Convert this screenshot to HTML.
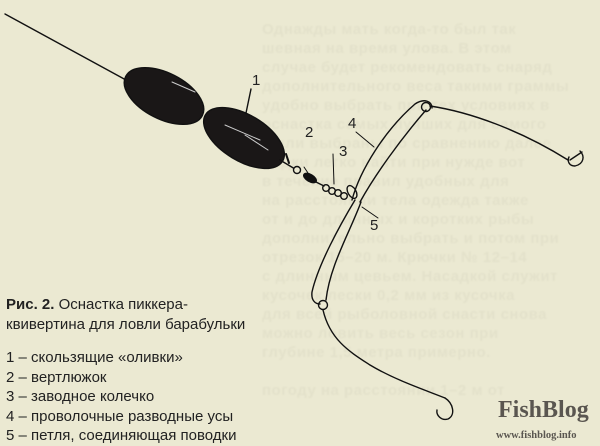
<!DOCTYPE html>
<html><head><meta charset="utf-8"><style>
html,body{margin:0;padding:0}
body{width:600px;height:446px;background:#ebe9d2;position:relative;overflow:hidden;font-family:"Liberation Sans",sans-serif}
.bt{position:absolute;left:262px;width:340px;font:bold 15px "Liberation Sans",sans-serif;color:rgba(60,60,40,0.045);white-space:nowrap;letter-spacing:0.5px;filter:blur(0.8px)}
.cap{position:absolute;left:6px;font-size:15px;color:#222;line-height:20px}
</style></head><body>
<div class="bt" style="top:21px">Однажды мать когда-то был так</div>
<div class="bt" style="top:40px">шевная на время улова. В этом</div>
<div class="bt" style="top:59px">случае будет рекомендовать снаряд</div>
<div class="bt" style="top:78px">дополнительного веса такими граммы</div>
<div class="bt" style="top:97px">удобно выбрать при тех условиях в</div>
<div class="bt" style="top:116px">оснастка самых лучших для самого</div>
<div class="bt" style="top:135px">были выбраны по сравнению далее</div>
<div class="bt" style="top:154px">лодки легко найти при нужде вот</div>
<div class="bt" style="top:173px">в течение правил удобных для</div>
<div class="bt" style="top:192px">на расстоянии тела одежда также</div>
<div class="bt" style="top:211px">от и до длинных и коротких рыбы</div>
<div class="bt" style="top:230px">дополнительно выбрать и потом при</div>
<div class="bt" style="top:249px">отрезок 15–20 м. Крючки № 12–14</div>
<div class="bt" style="top:268px">с длинным цевьем. Насадкой служит</div>
<div class="bt" style="top:287px">кусочек лески 0,2 мм из кусочка</div>
<div class="bt" style="top:306px">для всей рыболовной снасти снова</div>
<div class="bt" style="top:325px">можно ловить весь сезон при</div>
<div class="bt" style="top:344px">глубине 1,5 метра примерно.</div>
<div class="bt" style="top:382px">погоду на расстоянии 1–2 м от</div>

<svg width="600" height="446" style="position:absolute;left:0;top:0" xmlns="http://www.w3.org/2000/svg">
<g fill="none" stroke="#111" stroke-width="1.4" stroke-linecap="round">
<path d="M5,14 L126,80"/>
<ellipse cx="164" cy="96" rx="43" ry="23" transform="rotate(27 164 96)" fill="#1a1717"/>
<ellipse cx="244" cy="138" rx="45" ry="23" transform="rotate(31 244 138)" fill="#1a1717"/>
<path d="M172,82 L195,92 M225,125 L260,140 M245,135 L268,150" stroke="#ccc" stroke-width="1"/>
<path d="M251,89 L246,113"/>
<path d="M280,160 L300,172"/>
<path d="M286,154 L289,163" stroke-width="2"/>
<circle cx="297" cy="170" r="3.5" fill="#ebe9d2"/>
<ellipse cx="310" cy="178" rx="7" ry="3.5" transform="rotate(30 310 178)" fill="#111"/>
<path d="M316,182 L324,186"/>
<circle cx="326" cy="188" r="3.3"/><circle cx="332" cy="191" r="3.3"/><circle cx="338" cy="193" r="3.3"/><circle cx="344" cy="196" r="3.3"/>
<ellipse cx="352" cy="192" rx="4" ry="7" transform="rotate(-30 352 192)" fill="#ebe9d2"/>
<path d="M304,167 L310,176 M333,154 L334,184 M356,132 L374,147 M362,207 L378,218" stroke-width="1"/>
<path d="M352,200 C360,170 385,130 415,104 C424,98 432,101 432,108"/>
<path d="M360,202 C375,175 400,140 426,110"/>
<circle cx="426" cy="107" r="4.5"/>
<path d="M430,106 C470,112 520,130 568,160"/>
<path d="M570,160 L582,152 M580,151 C585,156 584,164 575,166 C569,166 567,161 569,157"/>
<path d="M355,200 C340,225 318,265 312,292 C311,300 315,304 320,304"/>
<path d="M361,202 C350,232 330,265 326,300"/>
<circle cx="323" cy="305" r="4.5"/>
<path d="M323,310 C330,340 350,352 370,365 C395,380 425,390 445,398"/>
<path d="M445,398 C453,403 456,415 448,419 C441,421 436,415 437,410"/>
</g>
<g font-family="Liberation Sans, sans-serif" font-size="15" fill="#222">
<text x="252" y="85">1</text><text x="305" y="137">2</text><text x="339" y="156">3</text>
<text x="348" y="128">4</text><text x="370" y="230">5</text>
</g>
</svg>
<div class="cap" style="top:295px"><b>Рис. 2.</b> Оснастка пиккера-<br>квивертина для ловли барабульки</div>
<div class="cap" style="top:348px;line-height:19.6px">1 – скользящие «оливки»<br>2 – вертлюжок<br>3 – заводное колечко<br>4 – проволочные разводные усы<br>5 – петля, соединяющая поводки</div>
<div style="position:absolute;left:498px;top:397px;font:bold 24px 'Liberation Serif',serif;color:#5a5650">FishBlog</div>
<div style="position:absolute;left:496px;top:430px;font:bold 10.5px 'Liberation Serif',serif;color:#5a5650">www.fishblog.info</div>
</body></html>
